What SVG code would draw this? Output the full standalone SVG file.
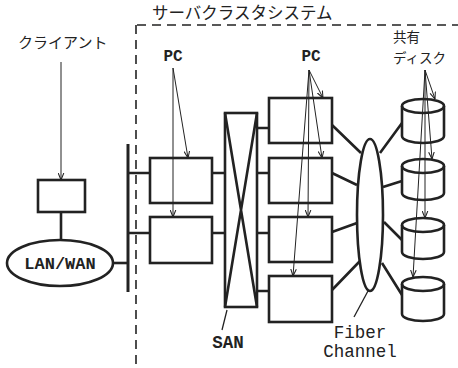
<svg xmlns="http://www.w3.org/2000/svg" width="458" height="368" viewBox="0 0 458 368">
<style>
.box{fill:#fff;stroke:#222;stroke-width:2.6}
.thick{fill:none;stroke:#222;stroke-width:2.6}
.thin{fill:none;stroke:#222;stroke-width:1}
.arr{fill:none;stroke:#222;stroke-width:1;marker-end:url(#ah)}
.dash{fill:none;stroke:#222;stroke-width:1.6;stroke-dasharray:9 6}
.jp{font-family:"Noto Sans CJK JP","Noto Sans",sans-serif;font-size:15px;fill:#222}
.mono{font-family:"Liberation Mono","DejaVu Sans Mono",monospace;fill:#222}
.b{font-weight:bold}
</style>
<defs>
<marker id="ah" viewBox="0 0 10 10" refX="10" refY="5" markerWidth="7" markerHeight="7" orient="auto" markerUnits="userSpaceOnUse">
<path d="M0,1 L10,5 L0,9" fill="none" stroke="#222" stroke-width="1.5"/>
</marker>
</defs>

<g id="cluster-boundary">
<path class="dash" d="M137,25 H458"/>
<path class="dash" d="M136,25 V368"/>
<text class="jp" x="152" y="19" style="font-size:16.5px">サーバクラスタシステム</text>
</g>

<g id="labels">
<text class="jp" x="18" y="48">クライアント</text>
<text class="mono b" x="173" y="61" text-anchor="middle" font-size="16">PC</text>
<text class="mono b" x="311" y="61" text-anchor="middle" font-size="16">PC</text>
<text class="jp" x="393" y="42" style="font-size:13.5px">共有</text>
<text class="jp" x="393" y="63" style="font-size:13.5px">ディスク</text>
<text class="mono b" x="228" y="348" text-anchor="middle" font-size="17.5">SAN</text>
<text class="mono" x="360" y="338" text-anchor="middle" font-size="17.5">Fiber</text>
<text class="mono" x="360" y="357" text-anchor="middle" font-size="17.5">Channel</text>
</g>

<g id="connectors">
<path class="arr" d="M61,62 V180"/>
<path class="thick" d="M61,212 V240"/>
<path class="thick" d="M113,263 H128"/>
<path class="thick" d="M128,144 V292" style="stroke-width:3"/>
<path class="thick" d="M128,173 H150 M128,233 H150"/>
<path class="thick" d="M212,173 H225 M212,233 H225"/>
<path class="thick" d="M257,128 H269 M257,173 H269 M257,233 H269 M257,291 H269"/>
<path class="thick" d="M332,125 L361,153 M332,173 L357,185 M332,232 L357,223 M332,290 L360,261"/>
<path class="thick" d="M380,153 L402,123 M383,187 L402,181 M384,222 L402,240 M382,263 L402,295"/>
<path class="arr" d="M173,68 L188,158"/>
<path class="arr" d="M173,68 V217"/>
<path class="arr" d="M309,70 L323,98"/>
<path class="arr" d="M309,70 L322,158"/>
<path class="arr" d="M309,70 L308,217"/>
<path class="arr" d="M309,70 L293,276"/>
<path class="arr" d="M425,70 L435,99"/>
<path class="arr" d="M425,70 L432,159"/>
<path class="arr" d="M425,70 L425,218"/>
<path class="arr" d="M425,70 L413,277"/>
<path class="thin" d="M222,330 L227,310" style="stroke-width:1.3"/>
<path class="thin" d="M354,317 L368,291" style="stroke-width:1.3"/>
</g>

<g id="client">
<rect class="box" x="38" y="180" width="47" height="32"/>
</g>

<g id="lanwan">
<ellipse class="box" cx="60" cy="263" rx="53" ry="23"/>
<text class="mono b" x="60" y="269" text-anchor="middle" font-size="17">LAN/WAN</text>
</g>

<g id="pc-left-1"><rect class="box" x="150" y="158" width="62" height="45" style="fill:none"/></g>
<g id="pc-left-2"><rect class="box" x="150" y="217" width="62" height="46"/></g>

<g id="san">
<rect class="box" x="225" y="113" width="32" height="194"/>
<path class="thick" d="M225,113 L257,307 M257,113 L225,307"/>
</g>

<g id="pc-right-1"><rect class="box" x="269" y="98" width="63" height="45" style="fill:none"/></g>
<g id="pc-right-2"><rect class="box" x="269" y="158" width="63" height="45" style="fill:none"/></g>
<g id="pc-right-3"><rect class="box" x="269" y="217" width="63" height="45" style="fill:none"/></g>
<g id="pc-right-4"><rect class="box" x="269" y="276" width="63" height="46" style="fill:none"/></g>

<g id="fiber-channel">
<ellipse class="box" cx="370" cy="215" rx="13" ry="76" style="fill:none"/>
</g>

<g id="disk-1"><path class="thick" d="M402,106 V136 A21,7 0 0 0 444,136 V106"/><ellipse class="thick" cx="423" cy="106" rx="21" ry="7"/></g>
<g id="disk-2"><path class="thick" d="M402,166 V193 A21,7 0 0 0 444,193 V166"/><ellipse class="thick" cx="423" cy="166" rx="21" ry="7"/></g>
<g id="disk-3"><path class="thick" d="M402,225 V252 A21,7 0 0 0 444,252 V225"/><ellipse class="thick" cx="423" cy="225" rx="21" ry="7"/></g>
<g id="disk-4"><path class="thick" d="M402,284 V314 A21,7 0 0 0 444,314 V284"/><ellipse class="thick" cx="423" cy="284" rx="21" ry="7"/></g>
</svg>
